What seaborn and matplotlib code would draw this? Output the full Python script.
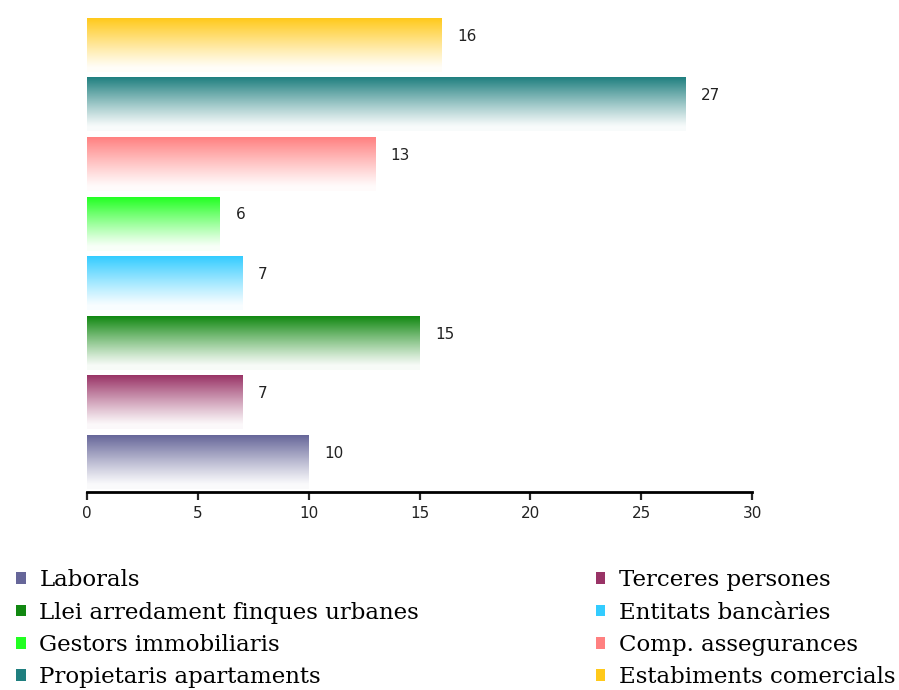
import numpy as np
import pandas as pd
import matplotlib
matplotlib.use("Agg")
import matplotlib.pyplot as plt
import seaborn as sns
from matplotlib.patches import Patch

# data, listed bottom to top as in the legend
categories = [
    "Laborals",
    "Terceres persones",
    "Llei arredament finques urbanes",
    "Entitats bancàries",
    "Gestors immobiliaris",
    "Comp. assegurances",
    "Propietaris apartaments",
    "Estabiments comercials",
]
counts = [10, 7, 15, 7, 6, 13, 27, 16]
colors = ["#666699", "#993366", "#118811", "#33ccff",
          "#22ff22", "#ff8080", "#1f7f7f", "#ffc91a"]

sns.set_style("white")
plt.rcParams["font.family"] = ["DejaVu Sans"]

df = pd.DataFrame({"cat": categories, "n": counts})
order = categories[::-1]  # top bar first
palette = dict(zip(categories, colors))

fig = plt.figure(figsize=(8.99, 6.9), dpi=100)
ax = fig.add_axes([0.0968, 0.287, 0.7397, 0.691])

sns.barplot(data=df, x="n", y="cat", hue="cat", order=order, hue_order=order,
            palette=palette, orient="h", width=0.9, saturation=1,
            legend=False, ax=ax)

# ---- swap flat fills for a vertical fade to white ----
t = np.linspace(0, 1, 256)[:, None]
for patch in list(ax.patches):
    x0, y0 = patch.get_x(), patch.get_y()
    w, h = patch.get_width(), patch.get_height()
    rgb = np.array(patch.get_facecolor()[:3])
    wgt = np.clip(1 - t / 0.92, 0, 1) ** 1.1 * 0.97 + 0.03
    grad = wgt[..., None] * rgb + (1 - wgt[..., None]) * 1.0
    grad = np.repeat(grad, 2, axis=1)
    ax.imshow(grad, extent=(x0, x0 + w, y0 + h, y0), origin="upper",
              aspect="auto", interpolation="bilinear", zorder=2)
    patch.set_visible(False)

ax.set_xlim(0, 30)
ax.set_ylim(7.5, -0.5)
ax.set_xticks(range(0, 31, 5))
ax.set_yticks([])
ax.set_xlabel("")
ax.set_ylabel("")
for s in ["top", "right", "left"]:
    ax.spines[s].set_visible(False)
ax.spines["bottom"].set_linewidth(2)
ax.spines["bottom"].set_color("black")
ax.tick_params(axis="x", direction="out", length=6, width=1.6,
               labelsize=11, pad=4, bottom=True, labelcolor="#222222")

# value labels
for i, cat in enumerate(order):
    v = counts[categories.index(cat)]
    ax.text(v + 0.7, i - 0.15, str(v), ha="left", va="center",
            fontsize=11, color="#222222")

# ---- legend: two columns ----
handles = [Patch(facecolor=c, edgecolor="none") for c in colors]
left_idx = [0, 2, 4, 6]
right_idx = [1, 3, 5, 7]
leg_kw = dict(frameon=False, loc="upper left", handlelength=0.4,
              handleheight=0.4, handletextpad=0.6, labelspacing=0.45,
              prop={"family": "DejaVu Serif", "size": 16.5}, borderaxespad=0,
              labelcolor="black")
fig.legend([handles[i] for i in left_idx], [categories[i] for i in left_idx],
           bbox_to_anchor=(0.008, 0.188), **leg_kw)
fig.legend([handles[i] for i in right_idx], [categories[i] for i in right_idx],
           bbox_to_anchor=(0.653, 0.188), **leg_kw)

fig.savefig("out.png", dpi=100)
